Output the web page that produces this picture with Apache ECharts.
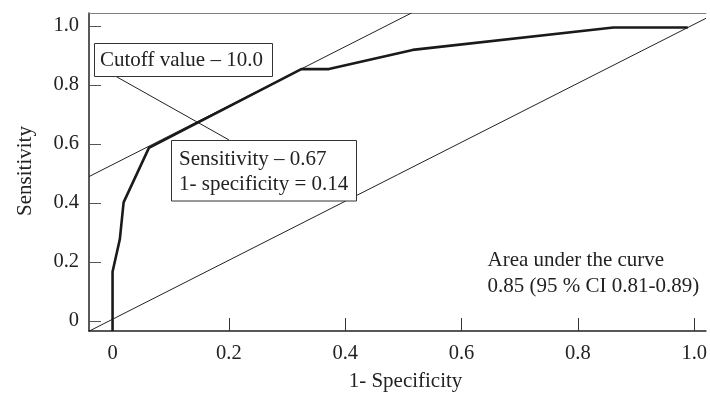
<!DOCTYPE html>
<html>
<head>
<meta charset="utf-8">
<script src="https://cdn.jsdelivr.net/npm/echarts@6/dist/echarts.min.js"></script>
<style>html,body{margin:0;padding:0;background:#fff}#c{width:710px;height:394px}</style>
</head>
<body>
<div id="c"></div>
<script>
// ROC curve (1 - specificity, sensitivity)
var rocX = [0, 0, 0.0125, 0.019, 0.0625, 0.3245, 0.372, 0.516, 0.861, 0.989];
var rocY = [-0.034, 0.167, 0.277, 0.402, 0.587, 0.854, 0.854, 0.919, 0.995, 0.995];
// reference diagonal
var diagX = [-0.0405, 1.0202];
var diagY = [-0.0345, 1.026];
// tangent line at the cutoff (parallel to diagonal)
var tanX = [-0.0405, 0.514];
var tanY = [0.4895, 1.0441];
// connector from cutoff label to sensitivity label
var connX = [0.0068, 0.2];
var connY = [0.828, 0.614];
var tickValues = [0, 0.2, 0.4, 0.6, 0.8, 1.0];
var cutoffText = 'Cutoff value \u2013 10.0';
var pointText = ['Sensitivity \u2013 0.67', '1- specificity = 0.14'];
var aucText = ['Area under the curve', '0.85 (95 % CI 0.81-0.89)'];
var xName = '1- Specificity';
var yName = 'Sensitivity';

function zip(a, b) { return a.map(function (v, i) { return [v, b[i]]; }); }
function fmt(v) { return v === 0 ? '0' : v.toFixed(1); }

var FONT = 'Liberation Serif';
var TXT = '#222';

var chart = echarts.init(document.getElementById('c'), null, { renderer: 'canvas' });
chart.setOption({
  animation: false,
  backgroundColor: '#fff',
  grid: { left: 89, top: 13, right: 0, bottom: 63 },
  xAxis: [{
    type: 'value', min: -0.0405, max: 1.0202,
    axisLine: { show: true, onZero: false, lineStyle: { color: '#222', width: 1.5 } },
    axisTick: { show: true, inside: true, length: 13, customValues: tickValues, lineStyle: { color: '#333', width: 1 } },
    axisLabel: { customValues: tickValues, formatter: fmt, margin: 12, fontFamily: FONT, fontSize: 20.5, color: TXT },
    splitLine: { show: false }
  }, {
    type: 'value', position: 'top', min: -0.0405, max: 1.0202,
    axisLine: { show: true, onZero: false, lineStyle: { color: '#808080', width: 1.2 } },
    axisTick: { show: false }, axisLabel: { show: false }, splitLine: { show: false }
  }],
  yAxis: {
    type: 'value', min: -0.0339, max: 1.0441,
    axisLine: { show: true, onZero: false, lineStyle: { color: '#222', width: 1.5 } },
    axisTick: { show: true, inside: true, length: 12, customValues: tickValues, lineStyle: { color: '#555', width: 1 } },
    axisLabel: { customValues: tickValues, formatter: fmt, margin: 10, fontFamily: FONT, fontSize: 20.5, color: TXT },
    splitLine: { show: false }
  },
  series: [
    { type: 'line', data: zip(diagX, diagY), symbol: 'none', lineStyle: { color: '#222', width: 1 }, z: 2 },
    { type: 'line', data: zip(tanX, tanY), symbol: 'none', lineStyle: { color: '#222', width: 1 }, z: 2 },
    { type: 'line', data: zip(connX, connY), symbol: 'none', lineStyle: { color: '#222', width: 1 }, z: 2 },
    { type: 'line', data: zip(rocX, rocY), symbol: 'none', lineStyle: { color: '#1a1a1a', width: 2.6 }, z: 3 }
  ],
  graphic: [
    { type: 'rect', z: 100, shape: { x: 94.5, y: 43.5, width: 178, height: 33 }, style: { fill: '#fff', stroke: '#333', lineWidth: 1 } },
    { type: 'text', z: 101, x: 100, y: 60.5, style: { text: cutoffText, font: '21px "' + FONT + '"', fill: TXT, verticalAlign: 'middle' } },
    { type: 'rect', z: 100, shape: { x: 171.5, y: 140.5, width: 185, height: 60.5 }, style: { fill: '#fff', stroke: '#333', lineWidth: 1 } },
    { type: 'text', z: 101, x: 179, y: 159.5, style: { text: pointText[0], font: '21px "' + FONT + '"', fill: TXT, verticalAlign: 'middle' } },
    { type: 'text', z: 101, x: 179, y: 184.5, style: { text: pointText[1], font: '21px "' + FONT + '"', fill: TXT, verticalAlign: 'middle' } },
    { type: 'text', z: 101, x: 487.5, y: 260, style: { text: aucText[0], font: '21px "' + FONT + '"', fill: TXT, verticalAlign: 'middle' } },
    { type: 'text', z: 101, x: 487.5, y: 286, style: { text: aucText[1], font: '21px "' + FONT + '"', fill: TXT, verticalAlign: 'middle' } },
    { type: 'text', z: 101, x: 405.5, y: 381, style: { text: xName, font: '21px "' + FONT + '"', fill: TXT, align: 'center', verticalAlign: 'middle' } },
    { type: 'text', z: 101, x: 25, y: 171, rotation: Math.PI / 2, style: { text: yName, font: '21px "' + FONT + '"', fill: TXT, align: 'center', verticalAlign: 'middle' } }
  ]
});
</script>
</body>
</html>
